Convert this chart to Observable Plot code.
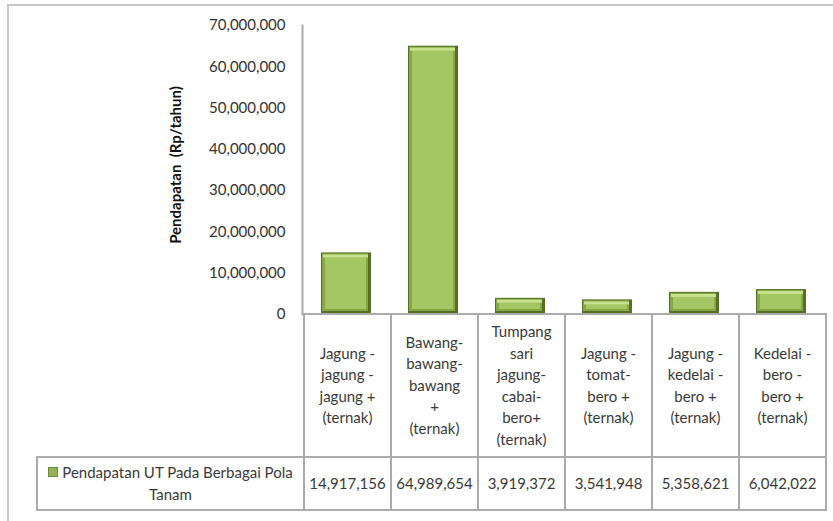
<!DOCTYPE html>
<html><head><meta charset="utf-8">
<script src="https://cdn.jsdelivr.net/npm/d3@7"></script>
<script src="https://cdn.jsdelivr.net/npm/@observablehq/plot@0.6"></script>
<style>
body{margin:0;background:#fff;font-family:Lato,sans-serif;}
#wrap{position:relative;width:833px;height:521px;overflow:hidden;background:#fff;}
#frame{position:absolute;left:7px;top:4px;width:900px;height:600px;border-left:2px solid #c8c8c8;border-top:2px solid #c8c8c8;}
#chart{position:absolute;left:0;top:0;}
#tbl{position:absolute;border-collapse:collapse;table-layout:fixed;font-size:15px;color:#3a3a3a;font-family:Lato,sans-serif;}
#tbl td{border:2px solid #ababab;text-align:center;vertical-align:middle;padding:0;line-height:21.5px;}
#tbl td.blank{border-left:none;border-top:none;}
.key{display:inline-block;width:8px;height:8px;background:#93b455;border:1px solid #6c8a3a;margin-right:4px;vertical-align:1px;}
</style></head>
<body><div id="wrap"><div id="frame"></div><div id="chart"></div></div>
<script>
const categories = [
  "Jagung -\njagung -\njagung +\n(ternak)",
  "Bawang-\nbawang-\nbawang\n+\n(ternak)",
  "Tumpang\nsari\njagung-\ncabai-\nbero+\n(ternak)",
  "Jagung -\ntomat-\nbero +\n(ternak)",
  "Jagung -\nkedelai -\nbero +\n(ternak)",
  "Kedelai -\nbero -\nbero +\n(ternak)"
];
const values = [14917156, 64989654, 3919372, 3541948, 5358621, 6042022];
const yTicks = [0, 10000000, 20000000, 30000000, 40000000, 50000000, 60000000, 70000000];
const seriesName = "Pendapatan UT Pada Berbagai Pola Tanam";
const yTitle = "Pendapatan  (Rp/tahun)";

const data = categories.map((c, i) => ({cat: c, v: values[i]}));
const fmt = d3.format(",");

const chart = Plot.plot({
  width: 833,
  height: 315,
  marginLeft: 302,
  marginRight: 5,
  marginTop: 25,
  marginBottom: 1,
  style: {fontFamily: "Lato, sans-serif", background: "transparent", overflow: "visible"},
  x: {domain: categories, padding: 0, axis: null},
  y: {domain: [0, 70000000], axis: null},
  marks: [
    Plot.frame({anchor: "left", stroke: "#ababab", strokeWidth: 2}),
    Plot.axisY({ticks: yTicks, tickSize: 0, tickPadding: 17, tickFormat: fmt, fontSize: 15, fill: "#333", label: null}),
    Plot.text([yTitle], {frameAnchor: "left", textAnchor: "middle", dx: -126, dy: -5, rotate: -90, fontSize: 15, fontWeight: "bold", fill: "#111", letterSpacing: "4px"}),
    Plot.barY(data, {x: "cat", y: "v", fill: "#56702b", insetLeft: 17, insetRight: 20}),
    Plot.barY(data, {x: "cat", y: "v", fill: "#86a844", insetLeft: 18, insetRight: 23, insetTop: 1, insetBottom: 3}),
    Plot.barY(data, {x: "cat", y: "v", fill: "#a4c663", insetLeft: 21, insetRight: 25, insetTop: 5, insetBottom: 5}),
    Plot.tickY(data, {x: "cat", y: "v", stroke: "#c7e18d", strokeWidth: 3, dy: 3, insetLeft: 19, insetRight: 23})
  ]
});
document.getElementById("chart").appendChild(chart);

// data table under the plot, aligned to the x band scale
const xs = chart.scale("x");
const ys = chart.scale("y");
const bw = xs.bandwidth;
const x0 = xs.apply(categories[0]);
const legendLeft = 37;
const baseY = ys.apply(0);

const tbl = document.createElement("table");
tbl.id = "tbl";
tbl.style.left = (legendLeft - 1) + "px";
tbl.style.top = (baseY - 1) + "px";
const cg = document.createElement("colgroup");
const widths = [x0 - legendLeft, ...categories.map(() => bw)];
widths.forEach(w => { const c = document.createElement("col"); c.style.width = w + "px"; cg.appendChild(c); });
tbl.appendChild(cg);
tbl.style.width = widths.reduce((a, b) => a + b, 0) + "px";

const r1 = document.createElement("tr");
const blank = document.createElement("td"); blank.className = "blank"; r1.appendChild(blank);
categories.forEach(c => {
  const td = document.createElement("td");
  td.style.height = "141px";
  td.innerHTML = c.split("\n").join("<br>");
  r1.appendChild(td);
});
tbl.appendChild(r1);

const r2 = document.createElement("tr");
const lg = document.createElement("td");
lg.style.height = "51px";
lg.innerHTML = '<span class="key"></span>' + seriesName;
lg.style.padding = "0 4px";
r2.appendChild(lg);
values.forEach(v => {
  const td = document.createElement("td");
  td.textContent = fmt(v);
  r2.appendChild(td);
});
tbl.appendChild(r2);
document.getElementById("wrap").appendChild(tbl);
</script>
</body></html>
